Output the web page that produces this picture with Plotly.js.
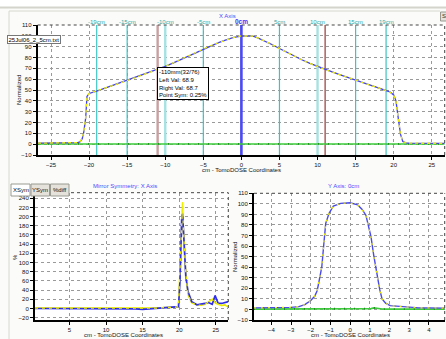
<!DOCTYPE html>
<html>
<head>
<meta charset="utf-8">
<script src="https://cdn.plot.ly/plotly-3.0.1.min.js"></script>
<style>
  html, body { margin: 0; padding: 0; background: #fbfbf9; }
  #chart { width: 446px; height: 339px; }
</style>
</head>
<body>
<div id="chart"></div>
<script>
// ---------- X axis profile (top chart) ----------
const profileX = [-26.7,-25,-24,-23,-22,-21.5,-21.2,-20.9,-20.7,-20.45,-20.28,-20,-19,-18,-17,-16,-15,-14,-13,-12,-11,-10,-9,-8,-7,-6,-5,-4,-3,-2,-1,0,1,1.5,2,3,4,5,6,7,8,9,10,11,12,13,14,15,16,17,18,19,19.5,20,20.3,20.6,20.9,21.2,21.6,22,23,24,25,26,26.7];
const profileMeasured = [0.9,0.9,1.0,1.0,1.1,1.4,2.1,5,11,24,44,46.8,49,51.5,53.8,56.2,58.8,61.2,63.8,66.3,68.9,71.8,74.8,78,81.3,84.6,88,91,93.8,96.3,98.5,99.8,100.2,99.8,98.6,95.5,92,88.3,84.6,81,77.7,74.5,71.6,68.7,66.5,64,61.5,59,56.6,54.3,52,49.6,48.2,45.5,40,24,9,2.5,1.2,0.9,0.8,0.8,0.8,0.8,0.8];
const profileReference = [0.9,0.9,1.0,1.0,1.1,1.5,2.3,5.4,11.5,24.5,44.3,46.9,49.1,51.4,53.9,56.1,58.9,61.1,63.9,66.2,69.0,71.7,74.9,78.1,81.2,84.5,88.1,91.1,93.7,96.4,98.4,99.9,100.1,99.7,98.5,95.6,92.1,88.2,84.5,81.1,77.6,74.6,71.5,68.8,66.4,64.1,61.4,59.1,56.5,54.4,51.9,49.5,48.1,45.3,39.6,23.5,8.6,2.4,1.2,0.9,0.8,0.8,0.8,0.8,0.8];
const profileDiff = [0.2,0.2,0.2,0.3,0.2,0.2,0.3,0.4,0.4,0.3,0.3,0.2,0.2,0.2,0.3,0.2,0.2,0.2,0.3,0.2,0.2,0.2,0.2,0.3,0.2,0.2,0.2,0.3,0.2,0.2,0.2,0.2,0.2,0.2,0.3,0.2,0.2,0.2,0.2,0.3,0.2,0.2,0.2,0.2,0.2,0.3,0.2,0.2,0.2,0.2,0.3,0.2,0.2,0.3,0.4,0.5,0.4,0.2,0.2,0.2,0.2,0.2,0.2,0.2,0.2];

// marker lines on the X profile
const cyanMarks = [-19,-15,-5,5,15,19];
const lightMarks = [-10,10];
const centerMarks = [0];
const symLeftMark = [-11];
const symRightMark = [11];
const markLabels = [-19,-15,-10,-5,0,5,10,15,19];
const tipLines = ["-110mm(32/76)","Left Val: 68.9","Right Val: 68.7","Point Sym: 0.25%"];

// ---------- Mirror symmetry (bottom left) ----------
const symX = [0.3,1,2,3,4,5,6,7,8,9,10,11,12,13,14,15,16,17,18,19,19.5,19.9,20.1,20.33,20.46,20.55,20.78,20.9,21.2,21.7,22.4,23,23.5,24,24.5,24.9,25.3,25.8,26.2,26.7];
const symMeasured = [0,0,0,0,0,0,0,0,0,0,0,0,0,0,-1,-2,-1,0,1,2,2,4,60,193,206,171,106,69,37,15,8,9,11,13,9,28,12,11,13,15];
const symReference = [1,1,1,1,1,1,1,1,1,1,1,1,1,1,1,0,1,1,2,2,3,4,80,200,231,178,120,76,30,12,8,7,9,14,20,12,10,6,8,3];

// ---------- Y axis profile (bottom right) ----------
const yProfX = [-4.88,-4,-3.5,-3,-2.6,-2.3,-2,-1.8,-1.67,-1.55,-1.44,-1.34,-1.24,-1.07,-0.85,-0.48,0,0.38,0.6,0.8,0.93,1.06,1.2,1.35,1.5,1.62,1.8,2.03,2.5,3,3.5,4,4.8];
const yProfMeasured = [1.5,1.6,1.8,2,2.7,4.5,8.4,12.5,18,28,40,61,81.4,91,98,100.5,101,99,95,89.3,80,68.7,51,33.8,19,10,6,3.6,2.8,2,1.5,1.5,1.2];
const yProfReference = [1.4,1.6,1.9,2.1,2.8,4.6,8.6,12.8,18.4,28.5,40.5,61.5,81.8,91.2,98.1,100.4,100.9,98.9,94.8,89.1,79.6,68.2,50.5,33.3,18.6,9.8,5.9,3.5,2.8,2,1.5,1.5,1.2];
const yProfDiff = [0.3,0.3,0.3,0.2,0.2,0.3,0.3,0.2,0.2,0.3,0.3,0.2,0.2,0.3,0.2,0.2,0.3,0.3,0.3,0.4,0.5,0.8,1.5,0.9,0.5,0.4,0.3,0.3,0.3,0.2,0.3,0.3,0.3];

const W = 446, H = 339;
const px = x => x / W;
const py = y => 1 - y / H;
const FONT = "Liberation Sans, Arial, sans-serif";
const BLUE = "#4040ee", YEL = "#eeee00", GREEN = "#3ccc3c", CYAN = "#3cc4c4", TITLEBLUE = "#4b4bff";

function line(x, y, xa, ya, color, width, dash) {
  return { x, y, xaxis: xa, yaxis: ya, type: "scatter", mode: "lines",
    line: { color, width, dash: dash || "solid" }, hoverinfo: "skip", showlegend: false };
}

const traces = [
  line(profileX, profileDiff, "x", "y", GREEN, 1.6),
  line(profileX, profileDiff, "x", "y", "#1c8c1c", 1.8, "1px,9px"),
  line(profileX, profileMeasured, "x", "y", BLUE, 1.3),
  line(profileX, profileReference, "x", "y", YEL, 1.3, "3px,3px"),

  line(symX, symReference, "x2", "y2", YEL, 1.5),
  line(symX, symMeasured, "x2", "y2", "#2f2fe8", 1.7),
  line(symX, symReference, "x2", "y2", YEL, 1.3, "3px,4px"),

  line(yProfX, yProfDiff, "x3", "y3", GREEN, 1.6),
  line(yProfX, yProfDiff, "x3", "y3", "#1c8c1c", 1.8, "1px,9px"),
  line(yProfX, yProfMeasured, "x3", "y3", "#4a4ae6", 1.4),
  line(yProfX, yProfReference, "x3", "y3", YEL, 1.2, "2px,5px"),
];

function axis(extra) {
  return Object.assign({
    showline: true, linecolor: "#000", linewidth: 2,
    ticks: "outside", ticklen: 3, tickcolor: "#000", tickwidth: 1,
    tickfont: { size: 6, color: "#111", family: FONT },
    showgrid: true, gridcolor: "#9a9a9a", griddash: "dot", gridwidth: 1,
    zeroline: false, fixedrange: true
  }, extra);
}

const dom = {
  top:  { x: [px(37.7), px(444.7)], y: [py(155), py(25)] },
  bl:   { x: [px(35), px(228.3)],   y: [py(320), py(192.7)] },
  br:   { x: [px(254), px(444.7)],  y: [py(320), py(193.3)] }
};

const shapes = [];
// window chrome
shapes.push({ type: "rect", xref: "paper", yref: "paper", x0: 0, x1: 1, y0: py(7), y1: 1, fillcolor: "#ffffff", line: { width: 0 }, layer: "below" });
shapes.push({ type: "line", xref: "paper", yref: "paper", x0: 0, x1: 1, y0: py(7.5), y1: py(7.5), line: { color: "#d4d4cc", width: 2 }, layer: "below" });
shapes.push({ type: "line", xref: "paper", yref: "paper", x0: px(9), x1: px(440), y0: py(11), y1: py(11), line: { color: "#d8d8d0", width: 1 }, layer: "below" });
shapes.push({ type: "line", xref: "paper", yref: "paper", x0: px(9), x1: px(9), y0: py(11), y1: 0, line: { color: "#d8d8d0", width: 1 }, layer: "below" });
// dotted top/right frame of each plot
for (const k of ["top", "bl", "br"]) {
  const d = dom[k];
  shapes.push({ type: "line", xref: "paper", yref: "paper", x0: d.x[0], x1: d.x[1], y0: d.y[1], y1: d.y[1], line: { color: "#444", width: 1, dash: "dot" } });
  shapes.push({ type: "line", xref: "paper", yref: "paper", x0: d.x[1], x1: d.x[1], y0: d.y[0], y1: d.y[1], line: { color: "#444", width: 1, dash: "dot" } });
}
// marker lines on X profile
const vline = (v, color, width) => ({ type: "line", xref: "x", yref: "y", x0: v, x1: v, y0: -10, y1: 110, line: { color, width }, layer: "between" });
cyanMarks.forEach(v => shapes.push(vline(v, CYAN, 1.2)));
lightMarks.forEach(v => shapes.push(vline(v, "#a6e2e2", 2.4)));
centerMarks.forEach(v => shapes.push(vline(v, "#4a4af2", 2.6)));
symLeftMark.forEach(v => shapes.push(vline(v, "#c9a0a0", 2.4)));
symRightMark.forEach(v => shapes.push(vline(v, "#b06a6a", 1.6)));
// buttons
const btn = (x0, x1, fill) => ({ type: "rect", xref: "paper", yref: "paper", x0: px(x0), x1: px(x1), y0: py(196), y1: py(184), fillcolor: fill, line: { color: "#9a9a92", width: 1 } });
shapes.push(btn(11, 30, "#ffffff"), btn(31, 49.5, "#e4e2da"), btn(50.5, 69, "#e4e2da"));
shapes.push({ type: "rect", xref: "paper", yref: "paper", x0: px(440.5), x1: px(447), y0: py(21), y1: py(12), fillcolor: "#e4e2da", line: { color: "#9a9a92", width: 1 } });

const ann = [];
const t = (text, x, y, o) => Object.assign({ text, xref: "paper", yref: "paper", x: px(x), y: py(y), showarrow: false,
  xanchor: "center", yanchor: "middle", font: { size: 6, color: "#111", family: FONT } }, o || {});
ann.push(t("Normalized", 19, 90, { textangle: -90 }));
ann.push(t("cm - TomoDOSE Coordinates", 241, 170));
ann.push(t("X Axis", 227, 16, { font: { size: 6, color: TITLEBLUE, family: FONT } }));
markLabels.forEach(v => {
  const isC = v === 0;
  ann.push({ text: isC ? "<b>0cm</b>" : v + "cm", xref: "x", yref: "paper", x: v, y: py(21.5), showarrow: false,
    xanchor: "center", yanchor: "middle",
    font: { size: isC ? 6.5 : 6, color: isC ? "#3a3af0" : "#2aaaaa", family: FONT } });
});
ann.push({ text: tipLines.join("<br>"), xref: "paper", yref: "paper", x: px(157), y: py(67.5), xanchor: "left", yanchor: "top",
  align: "left", showarrow: false, bgcolor: "#ffffff", bordercolor: "#000", borderwidth: 1, borderpad: 1,
  font: { size: 6, color: "#000", family: FONT } });
ann.push({ text: "25Jul06_2_5cm.txt", xref: "paper", yref: "paper", x: px(7), y: py(39.8), xanchor: "left", yanchor: "middle",
  showarrow: false, bgcolor: "#ffffff", bordercolor: "#777", borderwidth: 1, borderpad: 0.5,
  font: { size: 6, color: "#000", family: FONT } });
ann.push(t("XSym", 20.5, 190.3));
ann.push(t("YSym", 40.2, 190.3));
ann.push(t("%diff", 59.7, 190.3));
ann.push(t("S", 444, 16.5, { font: { size: 6, color: "#333", family: FONT } }));
ann.push(t("Mirror Symmetry: X Axis", 125, 185.5, { font: { size: 6, color: TITLEBLUE, family: FONT } }));
ann.push(t("%", 15, 257, { textangle: -90 }));
ann.push(t("cm - TomoDOSE Coordinates", 123, 334.5));
ann.push(t("Y Axis: 0cm", 343, 185.5, { font: { size: 6, color: TITLEBLUE, family: FONT } }));
ann.push(t("Normalized", 235, 257, { textangle: -90 }));
ann.push(t("cm - TomoDOSE Coordinates", 350, 334.5));

const layout = {
  width: W, height: H,
  margin: { l: 0, r: 0, t: 0, b: 0, pad: 0 },
  paper_bgcolor: "#fbfbf9", plot_bgcolor: "#ffffff",
  font: { family: FONT, size: 6, color: "#111" },
  showlegend: false,
  xaxis: axis({ domain: dom.top.x, anchor: "y", range: [-26.75, 26.7], tick0: -25, dtick: 5 }),
  yaxis: axis({ domain: dom.top.y, anchor: "x", range: [-10, 110], tick0: -10, dtick: 10 }),
  xaxis2: axis({ domain: dom.bl.x, anchor: "y2", range: [0.3, 26.7], tick0: 0, dtick: 5 }),
  yaxis2: axis({ domain: dom.bl.y, anchor: "x2", range: [-25, 252], tick0: -20, dtick: 20 }),
  xaxis3: axis({ domain: dom.br.x, anchor: "y3", range: [-4.88, 4.8], tick0: -4, dtick: 1 }),
  yaxis3: axis({ domain: dom.br.y, anchor: "x3", range: [-10, 110], tick0: -10, dtick: 10 }),
  shapes, annotations: ann
};

Plotly.newPlot("chart", traces, layout, { staticPlot: true, displayModeBar: false });
</script>
</body>
</html>
